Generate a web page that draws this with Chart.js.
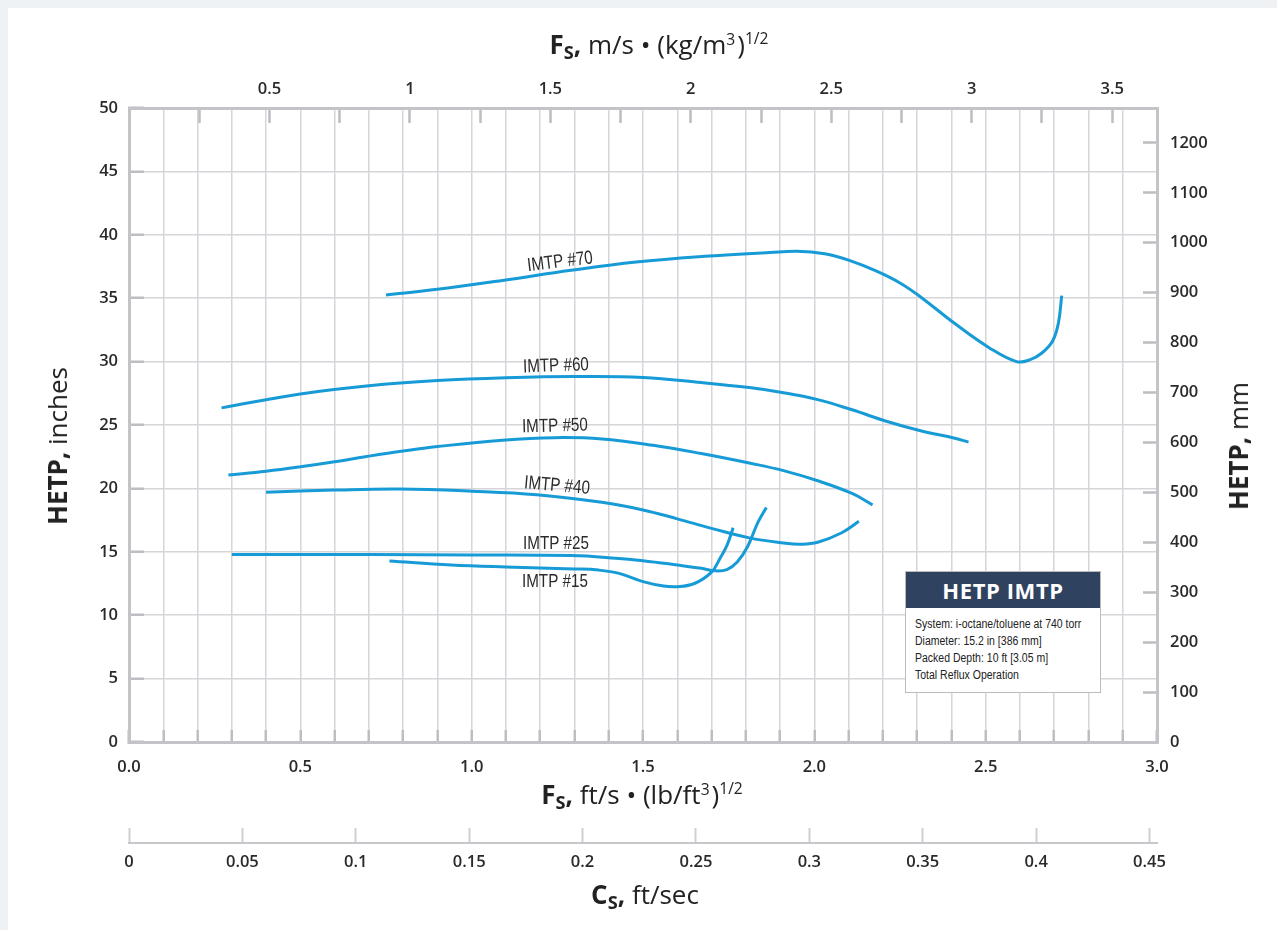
<!DOCTYPE html>
<html>
<head>
<meta charset="utf-8">
<title>HETP IMTP</title>
<script src="https://cdn.jsdelivr.net/npm/chart.js@4.4.1/dist/chart.umd.min.js"></script>
<style>
  html, body { margin: 0; padding: 0; background: #eef2f5; overflow: hidden; }
  #card { position: absolute; left: 8px; top: 8px; width: 1300px; height: 960px; background: #fff; }
  #wrap { position: absolute; left: 0; top: 0; width: 1277px; height: 930px; }
  .ttl { position: absolute; font-family: "Open Sans", sans-serif; font-size: 26px; color: #222;
         white-space: nowrap; transform: translate(-50%, -50%); }
  .ttl b { font-weight: 700; }
  .ttl sub { font-size: 0.7em; font-weight: 700; vertical-align: -0.3em; }
  .ttl sup { font-size: 0.6em; vertical-align: 0.6em; }
  .ttl sup.c { margin-right: 2px; }
  .rot { transform: translate(-50%, -50%) rotate(-90deg); }
  #note { position: absolute; left: 905px; top: 571px; width: 194px; height: 120px; background: #fff;
          border: 1px solid #bcbcbc; }
  #note .hd { height: 36px; background: #2f4361; color: #fff; text-align: center; line-height: 37px;
              font-family: "Open Sans", sans-serif; font-weight: 700; font-size: 22px; letter-spacing: 0.6px; }
  #note .bd { padding: 8px 0 0 9px; font-family: "Liberation Sans", Arial, sans-serif; white-space: nowrap;
              font-size: 12.5px; line-height: 17px; color: #222; transform: scaleX(0.84); transform-origin: 9px 0; }
</style>
</head>
<body>
<div id="card"></div>
<div id="wrap"><canvas id="hetp-chart" width="1277" height="930"></canvas></div>

<div class="ttl" style="left:659px; top:45px;"><b>F<sub>S</sub>,</b> m/s • (kg/m<sup class="c">3</sup>)<sup>1/2</sup></div>
<div class="ttl" style="left:642px; top:795px;"><b>F<sub>S</sub>,</b> ft/s • (lb/ft<sup class="c">3</sup>)<sup>1/2</sup></div>
<div class="ttl" style="left:645px; top:895px;"><b>C<sub>S</sub>,</b> ft/sec</div>
<div class="ttl rot" style="left:57px; top:446px;"><b>HETP,</b> inches</div>
<div class="ttl rot" style="left:1238px; top:446px;"><b>HETP,</b> mm</div>

<div id="note">
  <div class="hd">HETP IMTP</div>
  <div class="bd">System: i-octane/toluene at 740 torr<br>Diameter: 15.2 in [386 mm]<br>Packed Depth: 10 ft [3.05 m]<br>Total Reflux Operation</div>
</div>

<script>
// HETP vs F-factor, IMTP random packings

// unit conversions for the secondary axes
var FS_SI = 1.2199;   // ft/s·(lb/ft3)^1/2 -> m/s·(kg/m3)^1/2
var IN_MM = 25.4;
var CS_MAX = 0.4533;  // Cs at Fs = 3.0

// axis ticks
var fsTicks = [0, 0.1, 0.2, 0.3, 0.4, 0.5, 0.6, 0.7, 0.8, 0.9, 1.0, 1.1, 1.2, 1.3, 1.4, 1.5,
               1.6, 1.7, 1.8, 1.9, 2.0, 2.1, 2.2, 2.3, 2.4, 2.5, 2.6, 2.7, 2.8, 2.9, 3.0];
var fsLabels = [0, 0.5, 1, 1.5, 2, 2.5, 3];
var siTicks = [0.25, 0.5, 0.75, 1, 1.25, 1.5, 1.75, 2, 2.25, 2.5, 2.75, 3, 3.25, 3.5];
var siLabels = [0.5, 1, 1.5, 2, 2.5, 3, 3.5];
var hetpTicks = [0, 5, 10, 15, 20, 25, 30, 35, 40, 45, 50];
var mmTicks = [0, 100, 200, 300, 400, 500, 600, 700, 800, 900, 1000, 1100, 1200];
var csTicks = [0, 0.05, 0.1, 0.15, 0.2, 0.25, 0.3, 0.35, 0.4, 0.45];

// curves: Fs (ft/s·(lb/ft3)^1/2) and HETP (in)
var fs70   = [0.75, 0.90, 1.09, 1.29, 1.48, 1.68, 1.87, 1.95, 2.03, 2.10, 2.18, 2.25, 2.31, 2.41, 2.51, 2.59, 2.63, 2.665, 2.695, 2.712, 2.722];
var hetp70 = [35.25, 35.7, 36.4, 37.2, 37.85, 38.3, 38.6, 38.7, 38.5, 38.0, 37.15, 36.2, 35.1, 33.0, 31.1, 30.0, 30.15, 30.7, 31.6, 33.0, 35.2];

var fs60   = [0.27, 0.50, 0.70, 0.90, 1.10, 1.30, 1.50, 1.67, 1.81, 1.91, 2.01, 2.11, 2.21, 2.31, 2.41, 2.45];
var hetp60 = [26.35, 27.45, 28.1, 28.5, 28.72, 28.82, 28.75, 28.35, 27.95, 27.55, 27.0, 26.2, 25.3, 24.55, 23.95, 23.65];

var fs50   = [0.29, 0.40, 0.50, 0.60, 0.69, 0.80, 0.90, 1.09, 1.24, 1.38, 1.53, 1.67, 1.81, 1.91, 2.01, 2.11, 2.17];
var hetp50 = [21.05, 21.35, 21.7, 22.1, 22.5, 22.95, 23.3, 23.8, 24.0, 23.9, 23.4, 22.75, 22.0, 21.4, 20.6, 19.6, 18.7];

var fs40   = [0.40, 0.60, 0.79, 1.00, 1.19, 1.38, 1.50, 1.60, 1.70, 1.81, 1.91, 1.96, 2.01, 2.08, 2.13];
var hetp40 = [19.7, 19.87, 19.95, 19.78, 19.5, 18.9, 18.3, 17.6, 16.85, 16.1, 15.7, 15.6, 15.75, 16.5, 17.4];

var fs25   = [0.30, 0.70, 1.00, 1.29, 1.42, 1.50, 1.60, 1.67, 1.71, 1.745, 1.775, 1.805, 1.835, 1.86];
var hetp25 = [14.78, 14.78, 14.75, 14.7, 14.5, 14.3, 13.96, 13.7, 13.5, 13.6, 14.2, 15.4, 17.3, 18.5];

var fs15   = [0.76, 0.94, 1.10, 1.30, 1.37, 1.43, 1.50, 1.56, 1.60, 1.65, 1.70, 1.725, 1.745, 1.763];
var hetp15 = [14.27, 13.96, 13.8, 13.65, 13.56, 13.3, 12.65, 12.3, 12.25, 12.5, 13.4, 14.5, 15.5, 16.9];

// curve labels, placed in data units
var curveNames  = ["IMTP #70", "IMTP #60", "IMTP #50", "IMTP #40", "IMTP #25", "IMTP #15"];
var curveLabelX = [1.258, 1.246, 1.243, 1.249, 1.246, 1.243];
var curveLabelY = [37.85, 29.65, 24.9, 20.2, 15.6, 12.6];
var curveLabelA = [-7, -2, -1.5, 5, 0, 0];

var LINE_COLOR = "#179bd7";
var GRID = "#d6d6da";
var TICK = "#bdbdc2";
var BORDER = "#c4c4c8";
var TEXT = "#2a2a2a";

Chart.defaults.font.family = "'Open Sans', sans-serif";

function pts(xs, ys) {
  return xs.map(function (x, i) { return { x: x, y: ys[i] }; });
}

function curve(label, xs, ys) {
  return {
    label: label,
    data: pts(xs, ys),
    borderColor: LINE_COLOR,
    borderWidth: 3,
    pointRadius: 0,
    tension: 0.4,
    fill: false,
    xAxisID: "x",
    yAxisID: "y",
  };
}

function setTicks(list) {
  return function (scale) {
    scale.ticks = list.map(function (v) { return { value: v }; });
  };
}

function onlyIn(list, fmt) {
  return function (v) {
    for (var i = 0; i < list.length; i++) {
      if (Math.abs(list[i] - v) < 1e-6) return fmt(v);
    }
    return "";
  };
}

var tickFont = { size: 16.5, weight: "600" };

// draws the "IMTP #.." labels next to the curves (squeezed horizontally like a narrow face)
var curveLabelPlugin = {
  id: "curveLabels",
  afterDatasetsDraw: function (chart) {
    var ctx = chart.ctx;
    var xs = chart.scales.x, ys = chart.scales.y;
    ctx.save();
    ctx.fillStyle = "#2b2b2b";
    ctx.font = "19px 'Liberation Sans', Arial, sans-serif";
    ctx.textAlign = "center";
    ctx.textBaseline = "middle";
    curveNames.forEach(function (name, i) {
      ctx.save();
      ctx.translate(xs.getPixelForValue(curveLabelX[i]), ys.getPixelForValue(curveLabelY[i]));
      ctx.rotate(curveLabelA[i] * Math.PI / 180);
      ctx.scale(0.8, 1);
      ctx.fillText(name, 0, 0);
      ctx.restore();
    });
    ctx.restore();
  },
};

new Chart(document.getElementById("hetp-chart"), {
  type: "line",
  data: {
    datasets: [
      curve("IMTP #70", fs70, hetp70),
      curve("IMTP #60", fs60, hetp60),
      curve("IMTP #50", fs50, hetp50),
      curve("IMTP #40", fs40, hetp40),
      curve("IMTP #25", fs25, hetp25),
      curve("IMTP #15", fs15, hetp15),
    ],
  },
  options: {
    responsive: false,
    animation: false,
    devicePixelRatio: 1,
    layout: { padding: 0 },
    plugins: { legend: { display: false }, tooltip: { enabled: false } },
    scales: {
      x: {
        type: "linear", position: "bottom", weight: 0,
        min: 0, max: 3,
        afterBuildTicks: setTicks(fsTicks),
        afterFit: function (s) { s.height = 101; },
        grid: { color: GRID, lineWidth: 1.5, tickColor: TICK, tickWidth: 2.5, tickLength: -12 },
        border: { color: BORDER, width: 3 },
        ticks: { color: TEXT, font: tickFont, padding: 27, maxRotation: 0, autoSkip: false,
                 callback: onlyIn(fsLabels, function (v) { return v.toFixed(1); }) },
      },
      cs: {
        type: "linear", position: "bottom", weight: 1,
        min: 0, max: CS_MAX,
        afterBuildTicks: setTicks(csTicks),
        afterFit: function (s) { s.height = 87; },
        grid: { drawOnChartArea: false, tickColor: "#d0d0d4", tickWidth: 2, tickLength: -15 },
        border: { color: "#c8c8cc", width: 2 },
        ticks: { color: TEXT, font: tickFont, padding: 24, maxRotation: 0, autoSkip: false,
                 callback: function (v) { return String(parseFloat(v.toFixed(2))); } },
      },
      x2: {
        type: "linear", position: "top",
        min: 0, max: 3 * FS_SI,
        afterBuildTicks: setTicks(siTicks),
        afterFit: function (s) { s.height = 108; },
        grid: { drawOnChartArea: false, tickColor: TICK, tickWidth: 2.5, tickLength: -15 },
        border: { color: BORDER, width: 3 },
        ticks: { color: TEXT, font: tickFont, padding: 24, maxRotation: 0, autoSkip: false,
                 callback: onlyIn(siLabels, function (v) { return String(v); }) },
      },
      y: {
        type: "linear", position: "left",
        min: 0, max: 50,
        afterBuildTicks: setTicks(hetpTicks),
        afterFit: function (s) { s.width = 129; },
        grid: { color: GRID, lineWidth: 1.5, tickColor: TICK, tickWidth: 2.5, tickLength: -15 },
        border: { color: BORDER, width: 3 },
        ticks: { color: TEXT, font: tickFont, padding: 26, autoSkip: false,
                 callback: function (v) { return String(v); } },
      },
      y2: {
        type: "linear", position: "right",
        min: 0, max: 50 * IN_MM,
        afterBuildTicks: setTicks(mmTicks),
        afterFit: function (s) { s.width = 120; },
        grid: { drawOnChartArea: false, tickColor: TICK, tickWidth: 2.5, tickLength: -14 },
        border: { color: BORDER, width: 3 },
        ticks: { color: TEXT, font: tickFont, padding: 27, autoSkip: false,
                 callback: function (v) { return String(v); } },
      },
    },
  },
  plugins: [curveLabelPlugin],
});
</script>
</body>
</html>
